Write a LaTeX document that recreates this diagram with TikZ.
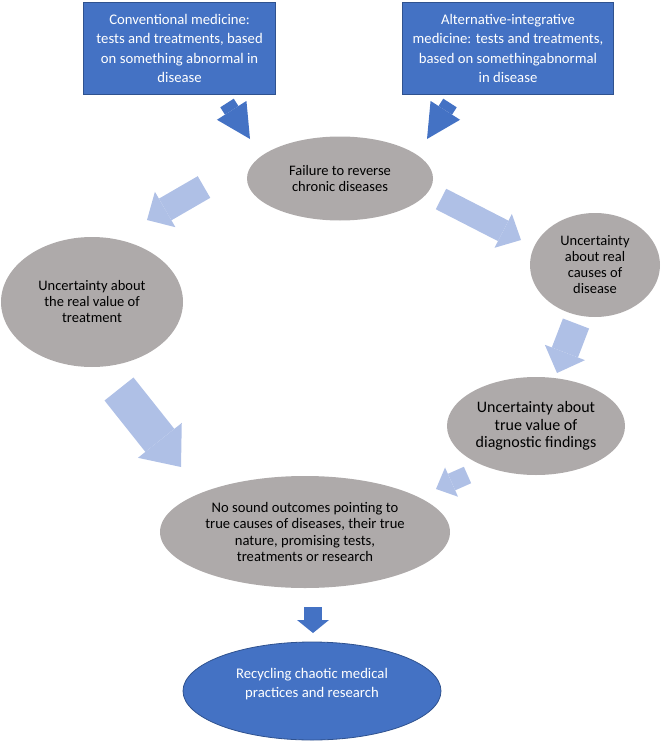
\documentclass[tikz,border=0pt]{standalone}
\usepackage{fontspec}
\setmainfont{Carlito}
\usepackage{tikz}
\usetikzlibrary{shapes.geometric,arrows.meta}
\definecolor{boxblue}{HTML}{4472C4}
\definecolor{boxline}{HTML}{2F528F}
\definecolor{stone}{HTML}{AEAAAA}
\definecolor{paleblue}{HTML}{AFC0E6}

\begin{document}
\begin{tikzpicture}[x=1pt, y=-1pt,
    medbox/.style={draw=boxline, line width=1pt, fill=boxblue, text=white, align=center,
      minimum height=92pt, inner sep=0pt, font={\fontsize{14.7pt}{19.5pt}\selectfont}},
    blob/.style={ellipse, fill=stone, text=black, align=center, inner sep=0pt},
    blockarrow/.style n args={4}{draw=#1, line width=#2,
      -{Triangle[width=#3, length=#4, line width=0pt]}}
  ]
  \useasboundingbox (0,0) rectangle (661,741);

  % two sources
  \node[medbox, minimum width=192pt] (conv) at (179.6,48.5)
    {Conventional medicine:\\tests and treatments, based\\on something abnormal in\\disease};
  \node[medbox, minimum width=211pt] (alt) at (508,48.5)
    {Alternative-integrative\\medicine: tests and treatments,\\based on somethingabnormal\\in disease};

  % the cycle
  \node[blob, minimum width=186pt, minimum height=84pt,
    font={\fontsize{14.5pt}{15.5pt}\selectfont}] (fail) at (340,178.5)
    {Failure to reverse\\chronic diseases};
  \node[blob, minimum width=182pt, minimum height=130pt,
    font={\fontsize{14.5pt}{16pt}\selectfont}] (treat) at (92,302)
    {Uncertainty about\\the real value of\\treatment};
  \node[blob, minimum width=130pt, minimum height=104pt,
    font={\fontsize{14.5pt}{16pt}\selectfont}] (causes) at (595,265)
    {Uncertainty\\about real\\causes of\\disease};
  \node[blob, minimum width=178pt, minimum height=98pt,
    font={\fontsize{16pt}{17.5pt}\selectfont}] (diag) at (536,426)
    {Uncertainty about\\true value of\\diagnostic findings};
  \node[blob, minimum width=290pt, minimum height=112pt,
    font={\fontsize{14.6pt}{16.2pt}\selectfont}] (nosound) at (305,532)
    {No sound outcomes pointing to\\true causes of diseases, their true\\nature, promising tests,\\treatments or research};

  % outcome
  \node[ellipse, draw=boxline, line width=0.8pt, fill=boxblue, text=white, align=center,
    inner sep=0pt, minimum width=258pt, minimum height=98pt,
    font={\fontsize{14.7pt}{19pt}\selectfont}] (recycle) at (312,691)
    {Recycling chaotic medical\\practices and research\\[-2pt]\mbox{}};

  % arrow ends
  \coordinate (convout) at (227,103);  \coordinate (convin) at (250,139);
  \coordinate (altout) at (450,103);   \coordinate (altin) at (427,139);
  \coordinate (failL) at (204,187);    \coordinate (treatin) at (147,220);
  \coordinate (failR) at (441,199);    \coordinate (causesin) at (521,240);
  \coordinate (causesout) at (576,323.5); \coordinate (diagin) at (557,373);
  \coordinate (treatout) at (119,389); \coordinate (nosoundL) at (181,467);
  \coordinate (diagout) at (467.5,475); \coordinate (nosoundR) at (436,489);
  \coordinate (nosoundout) at (313,607); \coordinate (recyclein) at (313,633);

  \draw[blockarrow={boxblue}{16pt}{35pt}{34pt}] (convout) -- (convin);
  \draw[blockarrow={boxblue}{16pt}{35pt}{34pt}] (altout) -- (altin);
  \draw[blockarrow={paleblue}{25pt}{41pt}{21pt}] (failL) -- (treatin);
  \draw[blockarrow={paleblue}{23pt}{38pt}{20pt}] (failR) -- (causesin);
  \draw[blockarrow={paleblue}{28pt}{43pt}{22pt}] (causesout) -- (diagin);
  \draw[blockarrow={paleblue}{37pt}{56pt}{34pt}] (treatout) -- (nosoundL);
  \draw[blockarrow={paleblue}{18pt}{32pt}{17pt}] (diagout) -- (nosoundR);
  \draw[blockarrow={boxblue}{18pt}{32pt}{13pt}] (nosoundout) -- (recyclein);
\end{tikzpicture}
\end{document}
